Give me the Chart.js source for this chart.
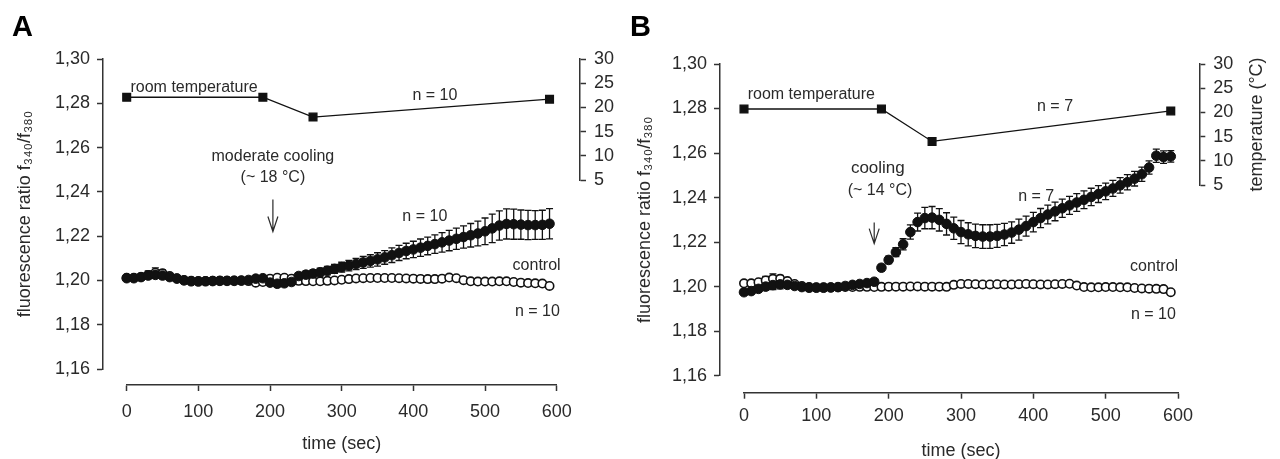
<!DOCTYPE html>
<html lang="en">
<head>
    <meta charset="UTF-8">
    <title>Cooling and calcium ratio</title>
    <script src="https://cdn.jsdelivr.net/npm/chart.js"></script>
    <style>
        body { margin: 0; background: #fff; }
        #wrap { position: relative; width: 1280px; height: 459px; overflow: hidden; }
        canvas { position: absolute; top: 0; }
        .tag { position: absolute; top: 12px; font: bold 29px "Liberation Sans", Arial, sans-serif; line-height: 29px; color: #000; }
    </style>
</head>
<body>
<div id="wrap">
    <canvas id="panelA" width="620" height="459" style="left:0"></canvas>
    <canvas id="panelB" width="660" height="459" style="left:620px"></canvas>
    <div class="tag" style="left:12px">A</div>
    <div class="tag" style="left:630px">B</div>
</div>

<script>
    // time axis (sec), one sample every 10 s
    const times = [0, 10, 20, 30, 40, 50, 60, 70, 80, 90,
        100, 110, 120, 130, 140, 150, 160, 170, 180, 190,
        200, 210, 220, 230, 240, 250, 260, 270, 280, 290,
        300, 310, 320, 330, 340, 350, 360, 370, 380, 390,
        400, 410, 420, 430, 440, 450, 460, 470, 480, 490,
        500, 510, 520, 530, 540, 550, 560, 570, 580, 590];

    const ratioTicks = [1.16, 1.18, 1.20, 1.22, 1.24, 1.26, 1.28, 1.30];
    const timeTicks = [0, 100, 200, 300, 400, 500, 600];
    const tempTicks = [5, 10, 15, 20, 25, 30];

    // panel A: moderate cooling (~18 °C)
    const coolA = [1.2010, 1.2010, 1.2015, 1.2022, 1.2025, 1.2022, 1.2015, 1.2008, 1.2000, 1.1996,
        1.1995, 1.1996, 1.1997, 1.1998, 1.1998, 1.1998, 1.1999, 1.2002, 1.2008, 1.2010,
        1.1990, 1.1985, 1.1987, 1.1993, 1.2020, 1.2026, 1.2031, 1.2037, 1.2044, 1.2052,
        1.2060, 1.2067, 1.2074, 1.2081, 1.2088, 1.2095, 1.2104, 1.2114, 1.2124, 1.2133,
        1.2140, 1.2148, 1.2156, 1.2164, 1.2172, 1.2180, 1.2188, 1.2196, 1.2204, 1.2212,
        1.2222, 1.2235, 1.2248, 1.2255, 1.2254, 1.2252, 1.2250, 1.2250, 1.2251, 1.2256];
    const coolErrA = [0.0010, 0.0010, 0.0010, 0.0012, 0.0015, 0.0015, 0.0012, 0.0010, 0.0010, 0.0010,
        0.0010, 0.0010, 0.0010, 0.0010, 0.0010, 0.0010, 0.0010, 0.0010, 0.0012, 0.0012,
        0.0012, 0.0012, 0.0012, 0.0014, 0.0015, 0.0016, 0.0017, 0.0018, 0.0019, 0.0020,
        0.0022, 0.0024, 0.0025, 0.0027, 0.0028, 0.0030, 0.0031, 0.0033, 0.0034, 0.0035,
        0.0037, 0.0039, 0.0040, 0.0042, 0.0044, 0.0046, 0.0048, 0.0050, 0.0053, 0.0056,
        0.0060, 0.0064, 0.0066, 0.0068, 0.0068, 0.0066, 0.0066, 0.0065, 0.0066, 0.0068];
    const ctrlA = [1.2012, 1.2012, 1.2016, 1.2025, 1.2035, 1.2032, 1.2020, 1.2010, 1.2002, 1.1998,
        1.1997, 1.1997, 1.1998, 1.1999, 1.1999, 1.2000, 1.2000, 1.1997, 1.1990, 1.1993,
        1.2008, 1.2012, 1.2012, 1.2008, 1.1998, 1.1997, 1.1996, 1.1996, 1.1998, 1.2000,
        1.2003, 1.2006, 1.2009, 1.2010, 1.2011, 1.2011, 1.2011, 1.2011, 1.2010, 1.2009,
        1.2008, 1.2007, 1.2006, 1.2006, 1.2008, 1.2013, 1.2010, 1.2001, 1.1996, 1.1995,
        1.1995, 1.1995, 1.1996, 1.1996, 1.1993, 1.1990, 1.1988, 1.1987, 1.1986, 1.1975];
    const ctrlErrA = [0.0006, 0.0006, 0.0008, 0.0018, 0.0022, 0.0015, 0.0008, 0.0006, 0.0006, 0.0006,
        0.0006, 0.0006, 0.0006, 0.0006, 0.0006, 0.0006, 0.0006, 0.0006, 0.0006, 0.0006,
        0.0006, 0.0006, 0.0006, 0.0006, 0.0006, 0.0006, 0.0006, 0.0006, 0.0006, 0.0006,
        0.0006, 0.0006, 0.0006, 0.0006, 0.0006, 0.0006, 0.0006, 0.0006, 0.0006, 0.0006,
        0.0006, 0.0006, 0.0006, 0.0006, 0.0006, 0.0006, 0.0006, 0.0006, 0.0006, 0.0006,
        0.0006, 0.0006, 0.0006, 0.0006, 0.0006, 0.0006, 0.0006, 0.0007, 0.0007, 0.0008];
    const tempTimesA = [0, 190, 260, 590];
    const tempA = [22.1, 22.1, 18.0, 21.7];

    // panel B: cooling (~14 °C)
    const coolB = [1.1975, 1.1980, 1.1990, 1.2000, 1.2007, 1.2010, 1.2008, 1.2003, 1.1998, 1.1995,
        1.1995, 1.1995, 1.1996, 1.1998, 1.2003, 1.2008, 1.2012, 1.2016, 1.2022, 1.2085,
        1.2120, 1.2155, 1.2190, 1.2245, 1.2290, 1.2308, 1.2310, 1.2300, 1.2282, 1.2262,
        1.2245, 1.2235, 1.2228, 1.2225, 1.2225, 1.2228, 1.2234, 1.2243, 1.2256, 1.2272,
        1.2290, 1.2308, 1.2324, 1.2338, 1.2352, 1.2365, 1.2378, 1.2390, 1.2403, 1.2416,
        1.2428, 1.2441, 1.2455, 1.2469, 1.2485, 1.2505, 1.2535, 1.2588, 1.2582, 1.2585];
    const coolErrB = [0.0012, 0.0012, 0.0012, 0.0015, 0.0020, 0.0020, 0.0015, 0.0012, 0.0010, 0.0010,
        0.0010, 0.0010, 0.0010, 0.0010, 0.0010, 0.0010, 0.0010, 0.0010, 0.0012, 0.0015,
        0.0017, 0.0020, 0.0025, 0.0032, 0.0040, 0.0048, 0.0050, 0.0050, 0.0050, 0.0050,
        0.0052, 0.0052, 0.0053, 0.0053, 0.0053, 0.0052, 0.0050, 0.0048, 0.0047, 0.0045,
        0.0044, 0.0043, 0.0042, 0.0042, 0.0041, 0.0040, 0.0040, 0.0040, 0.0039, 0.0038,
        0.0037, 0.0036, 0.0035, 0.0034, 0.0033, 0.0032, 0.0030, 0.0030, 0.0028, 0.0026];
    const ctrlB = [1.2015, 1.2015, 1.2020, 1.2028, 1.2035, 1.2035, 1.2025, 1.2012, 1.2003, 1.1998,
        1.1997, 1.1997, 1.1997, 1.1997, 1.1998, 1.1998, 1.1999, 1.1999, 1.1998, 1.1999,
        1.2000, 1.2000, 1.2000, 1.2001, 1.2001, 1.2000, 1.2000, 1.2000, 1.1999, 1.2008,
        1.2012, 1.2012, 1.2011, 1.2010, 1.2010, 1.2011, 1.2010, 1.2010, 1.2011, 1.2012,
        1.2011, 1.2010, 1.2010, 1.2011, 1.2012, 1.2013, 1.2005, 1.1998, 1.1997, 1.1997,
        1.1998, 1.1998, 1.1997, 1.1997, 1.1994, 1.1992, 1.1991, 1.1990, 1.1989, 1.1975];
    const ctrlErrB = [0.0006, 0.0006, 0.0008, 0.0018, 0.0022, 0.0015, 0.0008, 0.0006, 0.0006, 0.0006,
        0.0006, 0.0006, 0.0006, 0.0006, 0.0006, 0.0006, 0.0006, 0.0006, 0.0006, 0.0006,
        0.0006, 0.0006, 0.0006, 0.0006, 0.0006, 0.0006, 0.0006, 0.0006, 0.0006, 0.0006,
        0.0006, 0.0006, 0.0006, 0.0006, 0.0006, 0.0006, 0.0006, 0.0006, 0.0006, 0.0006,
        0.0006, 0.0006, 0.0006, 0.0006, 0.0006, 0.0006, 0.0006, 0.0006, 0.0006, 0.0006,
        0.0006, 0.0006, 0.0006, 0.0006, 0.0006, 0.0006, 0.0006, 0.0007, 0.0007, 0.0008];
    const tempTimesB = [0, 190, 260, 590];
    const tempB = [20.7, 20.7, 14.0, 20.3];

    const FONT = '"Liberation Sans", Arial, sans-serif';
    const INK = '#2a2a2a';
    Chart.defaults.font.family = FONT;
    Chart.defaults.color = INK;

    function pairs(xs, ys) {
        return xs.map((x, i) => ({x: x, y: ys[i]}));
    }

    // error bars, drawn under the markers
    const errorBars = {
        id: 'errorBars',
        beforeDatasetsDraw(chart) {
            const ctx = chart.ctx;
            chart.data.datasets.forEach((ds, i) => {
                if (!ds.errors) return;
                const meta = chart.getDatasetMeta(i);
                const ys = chart.scales[meta.yAxisID];
                ctx.save();
                ctx.strokeStyle = '#111';
                ctx.lineWidth = 1.3;
                meta.data.forEach((pt, j) => {
                    const v = ds.data[j].y, e = ds.errors[j];
                    const top = ys.getPixelForValue(v + e), bot = ys.getPixelForValue(v - e);
                    ctx.beginPath();
                    ctx.moveTo(pt.x, top); ctx.lineTo(pt.x, bot);
                    ctx.moveTo(pt.x - 3.5, top); ctx.lineTo(pt.x + 3.5, top);
                    ctx.moveTo(pt.x - 3.5, bot); ctx.lineTo(pt.x + 3.5, bot);
                    ctx.stroke();
                });
                ctx.restore();
            });
        }
    };

    // text labels, the arrow and the temperature title
    const notes = {
        id: 'notes',
        afterDatasetsDraw(chart, args, opts) {
            const {ctx, scales} = chart;
            const x = scales.x, y = scales.y, temp = scales.temp;
            ctx.save();
            ctx.fillStyle = INK;
            ctx.textAlign = 'center';
            ctx.textBaseline = 'middle';
            (opts.labels || []).forEach(n => {
                ctx.font = n.size + 'px ' + FONT;
                ctx.fillText(n.text, x.getPixelForValue(n.t), y.getPixelForValue(n.v));
            });
            const a = opts.arrow;
            if (a) {
                const ax = x.getPixelForValue(a.t);
                const y0 = y.getPixelForValue(a.from), y1 = y.getPixelForValue(a.to);
                ctx.strokeStyle = INK;
                ctx.lineWidth = 1.2;
                ctx.beginPath();
                ctx.moveTo(ax, y0); ctx.lineTo(ax, y1);
                ctx.moveTo(ax - 5, y1 - 15); ctx.lineTo(ax, y1); ctx.lineTo(ax + 5, y1 - 15);
                ctx.stroke();
            }
            if (opts.tempTitle) {
                ctx.translate(temp.right - 23, (temp.top + temp.bottom) / 2);
                ctx.rotate(-Math.PI / 2);
                ctx.font = '18px ' + FONT;
                ctx.fillText(opts.tempTitle, 0, 0);
            }
            ctx.restore();
        }
    };

    const axisLine = {color: '#333', width: 1.5};
    const axisTicks = {drawOnChartArea: false, tickLength: 6, tickColor: '#333', tickWidth: 1.5};

    function makePanel(id, p) {
        const ctx = document.getElementById(id).getContext('2d');
        // hidden spacer axes share a stack with the real ones, so they need the same thickness
        const padW = s => { s.width = p.left; };
        const padH = s => { s.height = p.bottom; };
        const padR = s => { s.width = p.right; };
        new Chart(ctx, {
            type: 'scatter',
            data: {
                datasets: [{
                    label: 'control',
                    data: pairs(times, p.ctrl),
                    errors: p.ctrlErr,
                    xAxisID: 'x', yAxisID: 'y',
                    clip: false,
                    pointRadius: 4.2,
                    pointBackgroundColor: '#fff',
                    pointBorderColor: '#111',
                    pointBorderWidth: 1.6,
                    order: 2
                }, {
                    label: 'cooling',
                    data: pairs(times, p.cool),
                    errors: p.coolErr,
                    xAxisID: 'x', yAxisID: 'y',
                    clip: false,
                    pointRadius: 4.8,
                    pointBackgroundColor: '#111',
                    pointBorderColor: '#111',
                    pointBorderWidth: 1,
                    order: 1
                }, {
                    label: 'temperature',
                    data: pairs(p.tTimes, p.temp),
                    xAxisID: 'x', yAxisID: 'temp',
                    clip: false,
                    showLine: true,
                    borderColor: '#111',
                    borderWidth: 1.3,
                    pointStyle: 'rect',
                    pointRadius: 5.5,
                    pointBackgroundColor: '#111',
                    pointBorderColor: '#111',
                    order: 0
                }]
            },
            options: {
                responsive: false,
                animation: false,
                devicePixelRatio: 1,
                events: [],
                layout: {padding: {top: p.top, left: 0, right: 0, bottom: 0}},
                plugins: {
                    legend: {display: false},
                    tooltip: {enabled: false},
                    notes: {labels: p.labels, arrow: p.arrow, tempTitle: p.tempTitle}
                },
                scales: {
                    y: {
                        type: 'linear', position: 'left', stack: 'l', stackWeight: p.yH, weight: 1,
                        min: 1.16, max: 1.30,
                        afterBuildTicks: s => { s.ticks = ratioTicks.map(v => ({value: v})); },
                        afterFit: padW,
                        ticks: {callback: v => v.toFixed(2).replace('.', ','), padding: 7, autoSkip: false, font: {size: 18}},
                        grid: axisTicks,
                        border: axisLine,
                        title: {display: true, text: 'fluorescence ratio f₃₄₀/f₃₈₀', font: {size: 18},
                            padding: {top: 14, bottom: 0}}
                    },
                    yGap: {type: 'linear', axis: 'y', position: 'left', stack: 'l', stackWeight: p.yGap, weight: 0,
                        display: false, afterFit: padW},
                    xGapL: {type: 'linear', axis: 'x', position: 'bottom', stack: 'b', stackWeight: p.xGapL, weight: 0,
                        display: false, afterFit: padH},
                    x: {
                        type: 'linear', position: 'bottom', stack: 'b', stackWeight: p.xW, weight: 1,
                        min: 0, max: 600,
                        afterBuildTicks: s => { s.ticks = timeTicks.map(v => ({value: v})); },
                        afterFit: padH,
                        ticks: {padding: p.xTickPad, maxRotation: 0, autoSkip: false, font: {size: 18}},
                        grid: axisTicks,
                        border: axisLine,
                        title: {display: true, text: 'time (sec)', font: {size: 18},
                            padding: {top: 0, bottom: p.xTitlePad}}
                    },
                    xGapR: {type: 'linear', axis: 'x', position: 'bottom', stack: 'b', stackWeight: p.xGapR, weight: 2,
                        display: false, afterFit: padH},
                    temp: {
                        type: 'linear', axis: 'y', position: 'right', stack: 'r', stackWeight: p.tH, weight: 0,
                        min: 5, max: 30,
                        afterBuildTicks: s => { s.ticks = tempTicks.map(v => ({value: v})); },
                        afterFit: padR,
                        ticks: {padding: 8, autoSkip: false, font: {size: 18}},
                        grid: axisTicks,
                        border: axisLine
                    },
                    tGap: {type: 'linear', axis: 'y', position: 'right', stack: 'r', stackWeight: p.tGap, weight: 1,
                        display: false, afterFit: padR}
                }
            },
            plugins: [errorBars, notes]
        });
    }

    makePanel('panelA', {
        cool: coolA, coolErr: coolErrA, ctrl: ctrlA, ctrlErr: ctrlErrA, tTimes: tempTimesA, temp: tempA,
        top: 59, left: 103, right: 40, bottom: 74,
        yH: 310, yGap: 16, xGapL: 23.7, xW: 430, xGapR: 23.3, tH: 121, tGap: 205,
        xTickPad: 10, xTitlePad: 4,
        labels: [
            {text: 'room temperature', t: 94, v: 1.2871, size: 16},
            {text: 'n = 10', t: 430, v: 1.2835, size: 16},
            {text: 'moderate cooling', t: 204, v: 1.2560, size: 16},
            {text: '(~ 18 °C)', t: 204, v: 1.2465, size: 16},
            {text: 'n = 10', t: 416, v: 1.2289, size: 16},
            {text: 'control', t: 572, v: 1.2068, size: 16},
            {text: 'n = 10', t: 573, v: 1.1860, size: 16}
        ],
        arrow: {t: 204, from: 1.2366, to: 1.2221}
    });

    makePanel('panelB', {
        cool: coolB, coolErr: coolErrB, ctrl: ctrlB, ctrlErr: ctrlErrB, tTimes: tempTimesB, temp: tempB,
        top: 64, left: 100, right: 80.7, bottom: 66.3,
        yH: 311.7, yGap: 17, xGapL: 24, xW: 434, xGapR: 21.3, tH: 121, tGap: 207.7,
        xTickPad: 7, xTitlePad: -3,
        labels: [
            {text: 'room temperature', t: 93, v: 1.2864, size: 16},
            {text: 'n = 7', t: 430, v: 1.2809, size: 16},
            {text: 'cooling', t: 185, v: 1.2531, size: 17},
            {text: '(~ 14 °C)', t: 188, v: 1.2430, size: 16},
            {text: 'n = 7', t: 404, v: 1.2404, size: 16},
            {text: 'control', t: 567, v: 1.2088, size: 16},
            {text: 'n = 10', t: 566, v: 1.1876, size: 16}
        ],
        arrow: {t: 180, from: 1.2288, to: 1.2193},
        tempTitle: 'temperature (°C)'
    });
</script>
</body>
</html>
